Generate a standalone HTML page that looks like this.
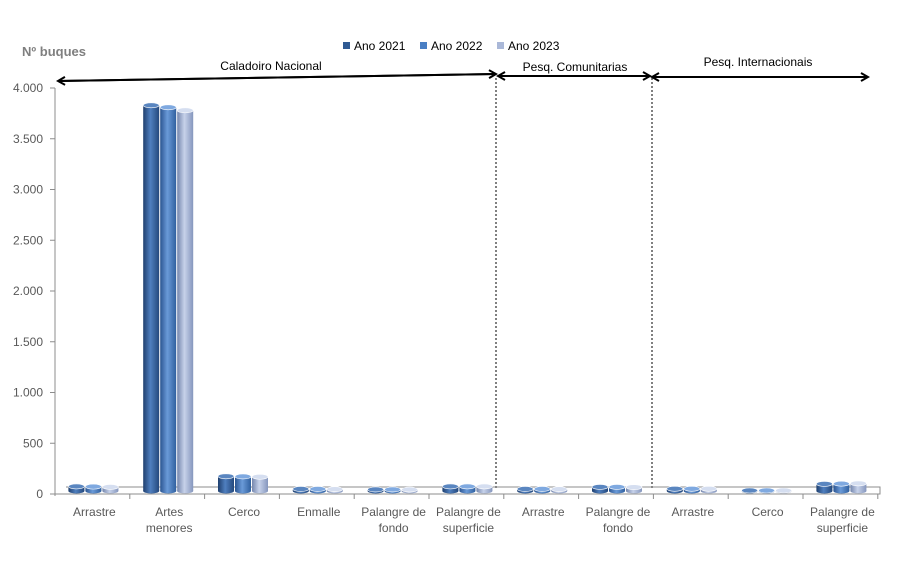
<!DOCTYPE html>
<html><head><meta charset="utf-8"><style>
html,body{margin:0;padding:0;background:#fff;}
svg{display:block;font-family:"Liberation Sans",sans-serif;}
</style></head><body>
<svg id="s" width="902" height="578" viewBox="0 0 902 578" xmlns="http://www.w3.org/2000/svg">
<defs>
<linearGradient id="g0" x1="0" x2="1"><stop offset="0" stop-color="#1f3f6e"/><stop offset="0.45" stop-color="#4f7fbf"/><stop offset="1" stop-color="#24487c"/></linearGradient>
<linearGradient id="g1" x1="0" x2="1"><stop offset="0" stop-color="#2b5592"/><stop offset="0.45" stop-color="#6a9ad8"/><stop offset="1" stop-color="#30609f"/></linearGradient>
<linearGradient id="g2" x1="0" x2="1"><stop offset="0" stop-color="#7486ad"/><stop offset="0.45" stop-color="#c7d2ea"/><stop offset="1" stop-color="#8596bd"/></linearGradient>
<marker id="ah" markerWidth="10" markerHeight="10" refX="8" refY="5" orient="auto" markerUnits="userSpaceOnUse"><path d="M1,1 L8,5 L1,9" fill="none" stroke="#000" stroke-width="2"/></marker>
</defs>
<text x="22" y="56" font-size="13" font-weight="bold" fill="#7f7f7f">Nº  buques</text>
<rect x="343" y="42" width="7" height="7" fill="#2f5a93"/><text x="354" y="50" font-size="12" fill="#000">Ano 2021</text>
<rect x="420" y="42" width="7" height="7" fill="#4a7fc4"/><text x="431" y="50" font-size="12" fill="#000">Ano 2022</text>
<rect x="497" y="42" width="7" height="7" fill="#aab8d8"/><text x="508" y="50" font-size="12" fill="#000">Ano 2023</text>
<text x="271" y="70" font-size="12" text-anchor="middle">Caladoiro Nacional</text>
<text x="575" y="71" font-size="12" text-anchor="middle">Pesq. Comunitarias</text>
<text x="758" y="66" font-size="12" text-anchor="middle">Pesq. Internacionais</text>
<line x1="496" y1="74" x2="58" y2="81" stroke="#000" stroke-width="2" marker-end="url(#ah)"/>
<line x1="58" y1="81" x2="496" y2="74" stroke="#000" stroke-width="2" marker-end="url(#ah)"/>
<line x1="650" y1="76" x2="498" y2="76" stroke="#000" stroke-width="2" marker-end="url(#ah)"/>
<line x1="498" y1="76" x2="650" y2="76" stroke="#000" stroke-width="2" marker-end="url(#ah)"/>
<line x1="868" y1="77" x2="652" y2="77" stroke="#000" stroke-width="2" marker-end="url(#ah)"/>
<line x1="652" y1="77" x2="868" y2="77" stroke="#000" stroke-width="2" marker-end="url(#ah)"/>
<line x1="496" y1="78" x2="496" y2="490" stroke="#000" stroke-width="1" stroke-dasharray="2,2"/>
<line x1="652" y1="78" x2="652" y2="490" stroke="#000" stroke-width="1" stroke-dasharray="2,2"/>
<line x1="55" y1="88" x2="55" y2="496" stroke="#8c8c8c"/>
<path d="M55,494 L880,494 L880,487 L66,487" fill="none" stroke="#8c8c8c"/>
<line x1="55" y1="494" x2="880" y2="494" stroke="#8c8c8c"/>
<g id="bars"></g>
<g id="ax" font-size="12" fill="#595959"></g>
</svg>
<script>
var ns="http://www.w3.org/2000/svg",s=document.getElementById('s'),B=document.getElementById('bars'),A=document.getElementById('ax');
function el(t,a,p,txt){var e=document.createElementNS(ns,t);for(var k in a)e.setAttribute(k,a[k]);if(txt)e.textContent=txt;(p||s).appendChild(e);return e;}
for(var i=0;i<=8;i++){var y=494-i*50.75;el('line',{x1:50,y1:y,x2:55,y2:y,stroke:'#8c8c8c'},A);
var v=i*500;var lab=v>=1000?Math.floor(v/1000)+'.'+('00'+(v%1000)).slice(-3):''+v;el('text',{x:43,y:y+4,'text-anchor':'end'},A,lab);}
var vals=[[45,43,40],[3800,3780,3750],[145,143,140],[20,20,18],[15,15,14],[45,45,45],[20,20,18],[40,40,38],[22,22,22],[5,5,5],[70,72,75]];
var labs=[["Arrastre"],["Artes","menores"],["Cerco"],["Enmalle"],["Palangre de","fondo"],["Palangre de","superficie"],["Arrastre"],["Palangre de","fondo"],["Arrastre"],["Cerco"],["Palangre de","superficie"]];
var tops=['#5a86c0','#7fa9e0','#d5def0'];
for(var c=0;c<11;c++){var cx=57+74.8*(c+0.5)-1;
el('line',{x1:55+74.8*(c+1),y1:494,x2:55+74.8*(c+1),y2:499,stroke:'#8c8c8c'},A);
for(var j=0;j<labs[c].length;j++)el('text',{x:cx+1,y:516+j*16,'text-anchor':'middle'},A,labs[c][j]);
for(var k=0;k<3;k++){var x=cx-25+k*17,w=16,base=491,t=base-vals[c][k]*0.1015;
el('rect',{x:x,y:t,width:w,height:base-t,fill:'url(#g'+k+')'},B);
el('ellipse',{cx:x+w/2,cy:base,rx:w/2,ry:2.5,fill:'url(#g'+k+')'},B);
el('ellipse',{cx:x+w/2,cy:t,rx:w/2,ry:2.5,fill:tops[k],stroke:'#fff','stroke-width':0.6},B);}}
</script>
</body></html>
